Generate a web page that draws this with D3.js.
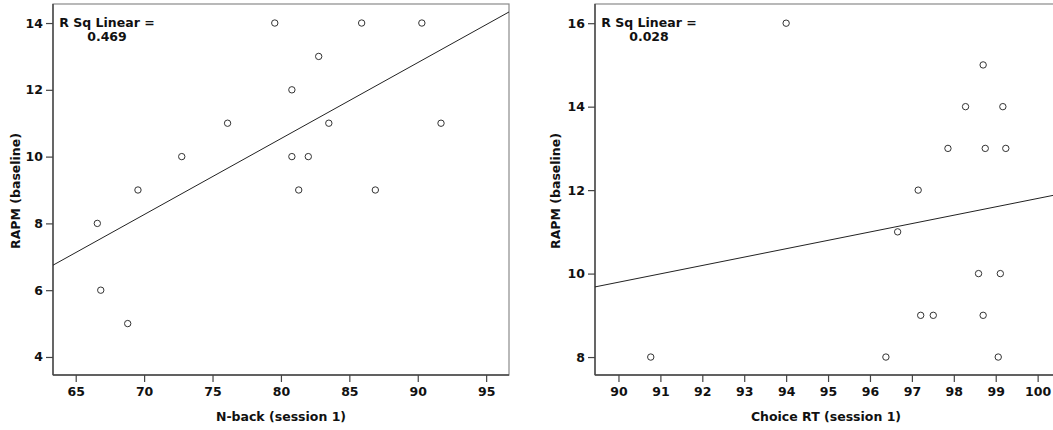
<!DOCTYPE html>
<html>
<head>
<meta charset="utf-8">
<script src="https://cdn.jsdelivr.net/npm/d3@7"></script>
<style>
body { margin: 0; background: #fff; }
text { font-family: "DejaVu Sans", sans-serif; font-weight: bold; fill: #111; }
</style>
</head>
<body>
<div class="container"></div>
<script>
const wd = 1053
const ht = 430

// panel 1: N-back (session 1) vs RAPM
const nbackX = [66.58, 66.83, 68.8, 69.55, 72.75, 76.1, 79.55, 80.8, 80.8, 81.3, 82.0, 82.76, 83.5, 85.9, 86.9, 90.3, 91.7]
const nbackY = [8, 6, 5, 9, 10, 11, 14, 12, 10, 9, 10, 13, 11, 14, 9, 14, 11]
const nbackXTicks = [65, 70, 75, 80, 85, 90, 95]
const nbackYTicks = [4, 6, 8, 10, 12, 14]
const nbackR2 = "0.469"

// panel 2: Choice RT (session 1) vs RAPM
const choiceX = [94.0, 98.7, 98.28, 99.17, 97.86, 98.75, 99.24, 97.15, 96.66, 98.59, 99.11, 97.21, 97.51, 98.7, 90.77, 96.38, 99.06]
const choiceY = [16, 15, 14, 14, 13, 13, 13, 12, 11, 10, 10, 9, 9, 9, 8, 8, 8]
const choiceXTicks = [90, 91, 92, 93, 94, 95, 96, 97, 98, 99, 100]
const choiceYTicks = [8, 10, 12, 14, 16]
const choiceR2 = "0.028"

const svg = d3.select(".container")
.append("svg")
.attr("width", wd)
.attr("height", ht)

function fit(xs, ys) {
  const mx = d3.mean(xs), my = d3.mean(ys)
  let sxy = 0, sxx = 0
  for (let i = 0; i < xs.length; i++) {
    sxy += (xs[i] - mx) * (ys[i] - my)
    sxx += (xs[i] - mx) * (xs[i] - mx)
  }
  const b = sxy / sxx
  return { b: b, a: my - b * mx }
}

function panel(p) {
  const g = svg.append("g")
  const x = d3.scaleLinear().domain(p.xDom).range(p.xRange)
  const y = d3.scaleLinear().domain(p.yDom).range([375, 4])

  // frame (top / right)
  g.append("rect")
  .attr("x", p.xRange[0]).attr("y", 4)
  .attr("width", p.xRange[1] - p.xRange[0]).attr("height", 371)
  .attr("fill", "none").attr("stroke", "#8a8a8a").attr("stroke-width", 1.2)

  const xAxis = g.append("g")
  .attr("transform", "translate(0,375)")
  .call(d3.axisBottom(x).tickValues(p.xTicks).tickSize(7).tickPadding(5).tickSizeOuter(0))
  const yAxis = g.append("g")
  .attr("transform", "translate(" + p.xRange[0] + ",0)")
  .call(d3.axisLeft(y).tickValues(p.yTicks).tickSize(7).tickPadding(3).tickSizeOuter(0))

  ;[xAxis, yAxis].forEach(a => {
    a.select(".domain").attr("stroke", "#444").attr("stroke-width", 1.4)
    a.selectAll(".tick line").attr("stroke", "#444").attr("stroke-width", 1.2)
    a.selectAll(".tick text").style("font-size", "12.5px").attr("fill", "#111")
  })
  yAxis.select(".domain").attr("d", "M0,375V4")
  xAxis.select(".domain").attr("d", "M" + p.xRange[0] + ",0H" + p.xRange[1])

  // regression line
  const f = fit(p.xs, p.ys)
  const clipId = "clip" + p.id
  svg.append("clipPath").attr("id", clipId)
  .append("rect").attr("x", p.xRange[0]).attr("y", 4)
  .attr("width", p.xRange[1] - p.xRange[0]).attr("height", 371)
  g.append("line")
  .attr("clip-path", "url(#" + clipId + ")")
  .attr("x1", x(p.xDom[0])).attr("y1", y(f.a + f.b * p.xDom[0]))
  .attr("x2", x(p.xDom[1])).attr("y2", y(f.a + f.b * p.xDom[1]))
  .attr("stroke", "#222").attr("stroke-width", 1)

  // points
  g.selectAll("circle.pt")
  .data(p.xs.map((d, i) => ({ x: d, y: p.ys[i] })))
  .join("circle")
  .attr("class", "pt")
  .attr("cx", d => x(d.x)).attr("cy", d => y(d.y))
  .attr("r", 3.2)
  .attr("fill", "#fff").attr("stroke", "#333").attr("stroke-width", 1)

  // R squared label, two lines
  g.append("text")
  .attr("x", p.r2x).attr("y", 27)
  .attr("text-anchor", "middle")
  .style("font-size", "12.5px")
  .text("R Sq Linear =")
  g.append("text")
  .attr("x", p.r2x).attr("y", 41)
  .attr("text-anchor", "middle")
  .style("font-size", "12.5px")
  .text(p.r2)

  // axis titles
  g.append("text")
  .attr("x", p.xTitleX).attr("y", 421)
  .attr("text-anchor", "middle")
  .style("font-size", "12.5px")
  .text(p.xTitle)
  g.append("text")
  .attr("transform", "translate(" + p.yTitleX + ",191) rotate(-90)")
  .attr("text-anchor", "middle")
  .style("font-size", "12.5px")
  .text("RAPM (baseline)")
}

panel({
  id: 1, xs: nbackX, ys: nbackY,
  xDom: [63.34, 96.67], xRange: [53, 509],
  yDom: [3.46, 14.57],
  xTicks: nbackXTicks, yTicks: nbackYTicks,
  r2: nbackR2, r2x: 107,
  xTitle: "N-back (session 1)", xTitleX: 281, yTitleX: 20
})

panel({
  id: 2, xs: choiceX, ys: choiceY,
  xDom: [89.44, 100.5], xRange: [595, 1058.6],
  yDom: [7.57, 16.46],
  xTicks: choiceXTicks, yTicks: choiceYTicks,
  r2: choiceR2, r2x: 649,
  xTitle: "Choice RT (session 1)", xTitleX: 826, yTitleX: 560
})
</script>
</body>
</html>
